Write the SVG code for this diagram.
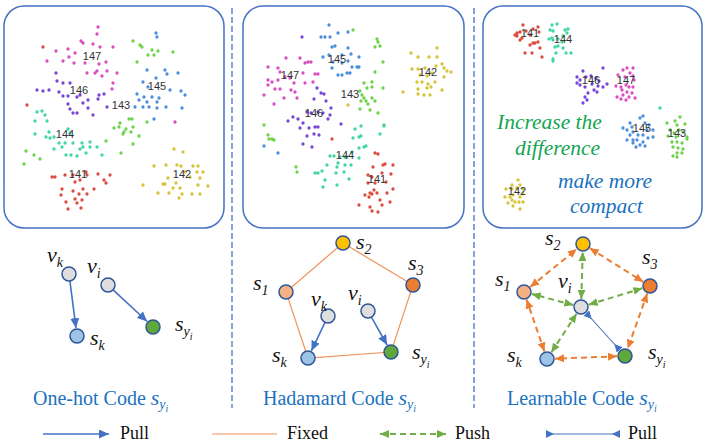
<svg xmlns="http://www.w3.org/2000/svg" width="706" height="446" viewBox="0 0 706 446">
<style>
.box{fill:#fff;stroke:#4472C4;stroke-width:1.5}
.div{stroke:#4472C4;stroke-width:1.3;stroke-dasharray:6 3;fill:none}
.d{fill:none;stroke-width:3.3;stroke-linecap:round}
.r{stroke:#DC4B3E}.p{stroke:#D94EC0}.u{stroke:#7945D8}.b{stroke:#4A8FDB}.g{stroke:#6CD24A}.t{stroke:#3FD6A2}.y{stroke:#D6C33A}
.lb{font-family:"Liberation Sans",Arial,sans-serif;font-size:11px;fill:#333;text-anchor:middle}
.m{font-family:"Liberation Serif","Times New Roman",serif;font-style:italic;font-size:22px;fill:#111}
.sub{font-size:14px}
.ss{font-size:10px}
.title{font-family:"Liberation Serif","Times New Roman",serif;font-size:20px;fill:#1B72C0}
.leg{font-family:"Liberation Serif","Times New Roman",serif;font-size:18px;fill:#111}
.note{font-family:"Liberation Serif","Times New Roman",serif;font-style:italic;font-size:21.5px}
.node{stroke:#2F5597;stroke-width:1.5}
.gray{fill:#DEDEDE}.lblue{fill:#9DC3E6}.green{fill:#5FA83C}.yel{fill:#FFC000}.org{fill:#ED7D31}.lorg{fill:#F4B183}
.pull{stroke:#4472C4;stroke-width:1.6;fill:none}
.fixed{stroke:#F0935A;stroke-width:1.2;fill:none}
.odash{stroke:#ED7D31;stroke-width:2;stroke-dasharray:6 4;fill:none}
.gdash{stroke:#70AD47;stroke-width:2;stroke-dasharray:6 4;fill:none}
.pull2{stroke:#4472C4;stroke-width:1.1;fill:none}
</style>
<defs>
<marker id="ab" markerUnits="userSpaceOnUse" markerWidth="10" markerHeight="9" viewBox="0 0 10 9" refX="10" refY="4.5" orient="auto-start-reverse"><path d="M0,0L10,4.5L0,9z" fill="#4472C4"/></marker>
<marker id="ao" markerUnits="userSpaceOnUse" markerWidth="9" markerHeight="8" viewBox="0 0 9 8" refX="9" refY="4" orient="auto-start-reverse"><path d="M0,0L9,4L0,8z" fill="#ED7D31"/></marker>
<marker id="ag" markerUnits="userSpaceOnUse" markerWidth="9" markerHeight="8" viewBox="0 0 9 8" refX="9" refY="4" orient="auto-start-reverse"><path d="M0,0L9,4L0,8z" fill="#70AD47"/></marker>
<marker id="ai" markerUnits="userSpaceOnUse" markerWidth="8" markerHeight="8" viewBox="0 0 8 8" refX="8" refY="4" orient="auto-start-reverse"><path d="M8,0L0,4L8,8z" fill="#4472C4"/></marker>
</defs>

<!-- dividers -->
<line class="div" x1="232" y1="8" x2="232" y2="408"/>
<line class="div" x1="474" y1="8" x2="474" y2="408"/>

<!-- Panel 1 scatter -->
<g id="scatter1">
<rect class="box" x="4" y="6" width="220" height="222" rx="20"/>
<path class="d p" d="M98 27h0M97 34h0M81 41h0M83 43h0M93 44h0M100 47h0M113 47h0M68 49h0M56 51h0M75 53h0M63 61h0M47 61h0M69 57h0M74 63h0M85 63h0M106 62h0M99 64h0M97 71h0M95 73h0M87 73h0M107 71h0M117 73h0M113 83h0M102 76h0M175 122h0M112 89h0"/>
<path class="d u" d="M56 73h0M57 81h0M63 83h0M70 83h0M37 90h0M43 91h0M49 90h0M59 92h0M63 96h0M68 96h0M77 97h0M80 95h0M88 100h0M98 99h0M104 94h0M99 95h0M68 104h0M70 109h0M77 113h0M88 108h0M93 115h0M107 107h0M73 113h0M83 103h0"/>
<path class="d b" d="M156 33h0M157 37h0M147 70h0M165 70h0M178 73h0M167 74h0M156 78h0M143 82h0M148 87h0M170 90h0M181 91h0M185 95h0M137 94h0M144 97h0M152 97h0M159 98h0M139 100h0M147 102h0M157 102h0M135 107h0M143 107h0M149 107h0M157 108h0M166 107h0M182 108h0M154 119h0"/>
<path class="d g" d="M133 41h0M140 45h0M142 47h0M152 50h0M158 51h0M173 52h0M148 55h0M154 55h0M137 62h0M129 119h0M132 119h0M120 123h0M147 122h0M114 128h0M119 127h0M126 129h0M124 132h0M123 134h0M133 127h0M131 132h0M139 136h0M106 141h0M133 144h0M121 153h0M26 151h0M34 155h0M40 159h0M24 164h0"/>
<path class="d t" d="M37 112h0M42 111h0M45 115h0M35 121h0M47 121h0M35 134h0M49 132h0M46 137h0M50 138h0M54 137h0M68 129h0M70 133h0M59 143h0M65 143h0M73 143h0M82 143h0M90 142h0M83 147h0M90 147h0M97 147h0M54 149h0M62 147h0M80 149h0M66 155h0M71 155h0M77 156h0M102 155h0M86 153h0"/>
<path class="d r" d="M43 47h0M27 105h0M52 177h0M55 177h0M65 175h0M73 175h0M86 172h0M87 175h0M98 174h0M110 175h0M104 180h0M106 183h0M80 180h0M75 182h0M62 189h0M73 191h0M83 189h0M94 189h0M61 195h0M79 194h0M87 194h0M66 202h0M75 199h0M77 203h0M82 200h0M68 209h0M81 208h0"/>
<path class="d y" d="M174 149h0M183 152h0M154 166h0M166 165h0M177 165h0M181 166h0M193 166h0M198 166h0M185 172h0M197 172h0M203 172h0M168 178h0M190 177h0M200 178h0M165 184h0M163 184h0M176 183h0M180 188h0M198 185h0M208 186h0M143 185h0M158 193h0M169 193h0M182 194h0M192 194h0M200 194h0M179 198h0M173 188h0"/>
<text class="lb" x="92" y="60">147</text>
<text class="lb" x="79" y="94">146</text>
<text class="lb" x="157" y="90">145</text>
<text class="lb" x="121" y="109">143</text>
<text class="lb" x="65" y="138">144</text>
<text class="lb" x="78" y="178">141</text>
<text class="lb" x="182" y="178">142</text>
</g>

<!-- Panel 2 scatter -->
<g id="scatter2">
<rect class="box" x="243" y="6" width="221" height="222" rx="20"/>
<path class="d b" d="M329 25h0M321 37h0M325 37h0M330 37h0M338 33h0M348 32h0M332 47h0M335 46h0M348 48h0M323 57h0M329 55h0M342 55h0M351 54h0M359 57h0M332 68h0M342 63h0M348 61h0M357 67h0M359 67h0M338 75h0M342 75h0M347 73h0M350 73h0M352 67h0M333 62h0M264 146h0M278 153h0"/>
<path class="d p" d="M268 67h0M278 68h0M286 58h0M300 58h0M305 63h0M308 62h0M311 62h0M280 72h0M268 80h0M272 82h0M278 80h0M285 77h0M290 78h0M294 83h0M303 73h0M315 74h0M318 74h0M305 83h0M313 82h0M275 89h0M280 89h0M291 90h0M295 92h0M264 95h0M284 98h0M297 98h0M274 104h0M268 85h0"/>
<path class="d u" d="M302 37h0M317 88h0M321 93h0M314 99h0M324 94h0M326 101h0M331 108h0M307 112h0M311 113h0M318 112h0M323 113h0M330 115h0M293 117h0M288 121h0M298 119h0M303 123h0M315 127h0M318 127h0M309 128h0M307 136h0M314 134h0M319 135h0M303 144h0M312 147h0M341 124h0M328 119h0M300 128h0"/>
<path class="d g" d="M353 30h0M377 39h0M378 42h0M375 47h0M380 46h0M383 62h0M375 72h0M372 82h0M364 83h0M360 91h0M367 88h0M372 87h0M383 88h0M362 95h0M364 98h0M361 101h0M366 101h0M372 98h0M375 101h0M368 104h0M360 109h0M370 110h0M378 113h0M384 125h0M264 125h0M268 135h0M269 139h0M272 139h0M274 140h0M296 167h0M297 172h0"/>
<path class="d y" d="M411 53h0M418 57h0M429 57h0M437 48h0M437 57h0M442 64h0M412 69h0M418 69h0M425 68h0M436 66h0M444 68h0M447 71h0M451 72h0M420 75h0M427 76h0M432 73h0M435 82h0M444 77h0M417 82h0M422 82h0M428 84h0M418 89h0M427 88h0M431 87h0M442 90h0M403 92h0M418 94h0M424 95h0M430 95h0M348 105h0"/>
<path class="d t" d="M361 126h0M355 129h0M353 138h0M359 137h0M361 136h0M364 147h0M366 146h0M359 148h0M352 152h0M345 157h0M330 156h0M334 156h0M340 157h0M347 157h0M359 158h0M338 163h0M345 165h0M351 165h0M337 167h0M327 165h0M315 173h0M318 173h0M322 171h0M336 173h0M344 172h0M325 180h0M323 187h0M337 185h0M349 179h0M380 134h0M384 126h0"/>
<path class="d r" d="M332 139h0M375 153h0M378 154h0M383 165h0M385 164h0M393 165h0M373 167h0M382 173h0M391 174h0M368 175h0M372 177h0M368 183h0M375 183h0M386 182h0M393 189h0M374 190h0M370 193h0M372 194h0M377 193h0M365 195h0M369 197h0M380 200h0M387 193h0M390 202h0M382 205h0M359 205h0M370 207h0M372 211h0M378 212h0"/>
<text class="lb" x="337" y="63">145</text>
<text class="lb" x="290" y="79">147</text>
<text class="lb" x="428" y="76">142</text>
<text class="lb" x="350" y="98">143</text>
<text class="lb" x="314" y="117">146</text>
<text class="lb" x="345" y="159">144</text>
<text class="lb" x="377" y="183">141</text>
</g>

<!-- Panel 3 scatter -->
<g id="scatter3">
<rect class="box" x="483" y="6" width="219" height="222" rx="20"/>
<path class="d r" d="M523 25h0M517 33h0M515 35h0M520 32h0M522 38h0M526 31h0M530 35h0M533 29h0M538 27h0M539 32h0M535 43h0M530 45h0M533 43h0M538 42h0M540 48h0M525 53h0M532 53h0M542 57h0M520 40h0M517 36h0"/>
<path class="d t" d="M552 25h0M557 24h0M550 30h0M553 31h0M565 30h0M568 29h0M567 33h0M552 38h0M553 40h0M558 39h0M562 42h0M555 47h0M558 46h0M563 48h0M566 53h0M571 53h0M556 53h0M553 59h0M553 61h0M563 36h0M549 39h0M660 108h0"/>
<path class="d u" d="M583 71h0M603 68h0M577 77h0M580 80h0M586 77h0M591 76h0M596 78h0M599 81h0M580 85h0M585 87h0M592 84h0M598 86h0M603 87h0M607 84h0M594 90h0M588 93h0M585 97h0M587 100h0M583 103h0M597 92h0M577 83h0"/>
<path class="d p" d="M623 70h0M627 68h0M633 68h0M630 73h0M618 75h0M625 77h0M633 76h0M634 80h0M616 86h0M621 87h0M626 85h0M629 87h0M633 87h0M622 90h0M627 92h0M632 93h0M617 97h0M621 99h0M626 100h0M635 98h0M629 97h0M623 95h0"/>
<path class="d b" d="M643 116h0M640 118h0M623 128h0M627 130h0M632 127h0M633 132h0M645 123h0M649 125h0M653 130h0M653 137h0M648 138h0M643 135h0M638 135h0M630 135h0M627 140h0M633 140h0M637 140h0M643 142h0M645 146h0M640 145h0M633 143h0M636 147h0M647 130h0M630 123h0"/>
<path class="d g" d="M667 123h0M675 121h0M680 117h0M677 125h0M685 124h0M670 130h0M674 133h0M679 130h0M683 132h0M687 137h0M668 136h0M676 137h0M672 142h0M677 142h0M682 143h0M687 139h0M673 147h0M678 148h0M683 149h0M677 153h0M682 153h0M673 156h0M677 157h0"/>
<path class="d y" d="M518 180h0M512 185h0M520 185h0M506 189h0M512 189h0M517 188h0M523 189h0M505 197h0M510 197h0M513 195h0M520 197h0M523 194h0M515 202h0M519 202h0M523 202h0M508 203h0M513 206h0M520 209h0M512 200h0"/>
<text class="lb" x="530" y="37">141</text>
<text class="lb" x="563" y="43">144</text>
<text class="lb" x="591" y="84">146</text>
<text class="lb" x="626" y="84">147</text>
<text class="lb" x="642" y="132">145</text>
<text class="lb" x="677" y="137">143</text>
<text class="lb" x="517" y="195">142</text>
<text class="note" x="497" y="129" fill="#12A552">Increase the</text>
<text class="note" x="515" y="155" fill="#12A552">difference</text>
<text class="note" x="558" y="188" fill="#1B72C0">make more</text>
<text class="note" x="570" y="213" fill="#1B72C0">compact</text>
</g>

<!-- connectors -->
<g id="connectors">
<line class="pull" x1="69.9" y1="280.9" x2="76" y2="328.1" marker-end="url(#ab)"/>
<line class="pull" x1="113.1" y1="289.8" x2="147.2" y2="321.5" marker-end="url(#ab)"/>
<polygon class="fixed" points="286,292 343,243 413,285 391,352 308,358"/>
<line class="pull" x1="325" y1="322.3" x2="311.4" y2="350.8" marker-end="url(#ab)"/>
<line class="pull" x1="371.4" y1="317.1" x2="387.1" y2="345" marker-end="url(#ab)"/>
<line class="odash" x1="530.2" y1="287" x2="576.8" y2="249" marker-start="url(#ao)" marker-end="url(#ao)"/>
<line class="odash" x1="589.8" y1="248.2" x2="643.2" y2="281.8" marker-start="url(#ao)" marker-end="url(#ao)"/>
<line class="odash" x1="647.3" y1="293.5" x2="627.7" y2="348.5" marker-start="url(#ao)" marker-end="url(#ao)"/>
<line class="odash" x1="617" y1="356.3" x2="555" y2="358.7" marker-start="url(#ao)" marker-end="url(#ao)"/>
<line class="odash" x1="544.4" y1="351.4" x2="526.6" y2="299.6" marker-start="url(#ao)" marker-end="url(#ao)"/>
<line class="gdash" x1="581.3" y1="299" x2="582.7" y2="252" marker-start="url(#ag)" marker-end="url(#ag)"/>
<line class="gdash" x1="573.3" y1="305" x2="531.7" y2="294" marker-start="url(#ag)" marker-end="url(#ag)"/>
<line class="gdash" x1="588.7" y1="304.7" x2="642.3" y2="288.3" marker-start="url(#ag)" marker-end="url(#ag)"/>
<line class="gdash" x1="576.6" y1="313.7" x2="551.4" y2="352.3" marker-start="url(#ag)" marker-end="url(#ag)"/>
<line class="pull2" x1="586.3" y1="313" x2="619.7" y2="350" marker-start="url(#ai)" marker-end="url(#ai)"/>
</g>

<!-- Panel 1 nodes -->
<g id="p1-vk"><circle class="node gray" cx="69" cy="274" r="7"/><text class="m" x="47" y="262">v<tspan class="sub" dy="5">k</tspan></text></g>
<g id="p1-vi"><circle class="node gray" cx="108" cy="285" r="7"/><text class="m" x="87" y="273">v<tspan class="sub" dy="5">i</tspan></text></g>
<g id="p1-sk"><circle class="node lblue" cx="77" cy="336" r="7"/><text class="m" x="90" y="345">s<tspan class="sub" dy="5">k</tspan></text></g>
<g id="p1-sy"><circle class="node green" cx="153" cy="327" r="7"/><text class="m" x="175" y="331">s<tspan class="sub" dy="5">y</tspan><tspan class="ss" dy="4">i</tspan></text></g>
<g id="p1-title"><text class="title" x="33" y="405">One-hot Code <tspan font-style="italic" font-size="22">s</tspan><tspan font-style="italic" font-size="14" dy="4">y</tspan><tspan font-style="italic" font-size="10" dy="3">i</tspan></text></g>

<!-- Panel 2 nodes -->
<g id="p2-s2"><circle class="node yel" cx="343" cy="243" r="7"/><text class="m" x="356" y="249">s<tspan class="sub" dy="5">2</tspan></text></g>
<g id="p2-s3"><circle class="node org" cx="413" cy="285" r="7"/><text class="m" x="408" y="270">s<tspan class="sub" dy="5">3</tspan></text></g>
<g id="p2-s1"><circle class="node lorg" cx="286" cy="292" r="7"/><text class="m" x="253" y="290">s<tspan class="sub" dy="5">1</tspan></text></g>
<g id="p2-vk"><circle class="node gray" cx="328" cy="316" r="7"/><text class="m" x="311" y="306">v<tspan class="sub" dy="5">k</tspan></text></g>
<g id="p2-vi"><circle class="node gray" cx="368" cy="311" r="7"/><text class="m" x="348" y="300">v<tspan class="sub" dy="5">i</tspan></text></g>
<g id="p2-sk"><circle class="node lblue" cx="308" cy="358" r="7"/><text class="m" x="272" y="362">s<tspan class="sub" dy="5">k</tspan></text></g>
<g id="p2-sy"><circle class="node green" cx="391" cy="352" r="7"/><text class="m" x="412" y="359">s<tspan class="sub" dy="5">y</tspan><tspan class="ss" dy="4">i</tspan></text></g>
<g id="p2-title"><text class="title" x="263" y="405">Hadamard Code <tspan font-style="italic" font-size="22">s</tspan><tspan font-style="italic" font-size="14" dy="4">y</tspan><tspan font-style="italic" font-size="10" dy="3">i</tspan></text></g>

<!-- Panel 3 nodes -->
<g id="p3-s2"><circle class="node yel" cx="583" cy="244" r="7"/><text class="m" x="545" y="245">s<tspan class="sub" dy="5">2</tspan></text></g>
<g id="p3-s3"><circle class="node org" cx="650" cy="286" r="7"/><text class="m" x="642" y="264">s<tspan class="sub" dy="5">3</tspan></text></g>
<g id="p3-s1"><circle class="node lorg" cx="524" cy="292" r="7"/><text class="m" x="495" y="286">s<tspan class="sub" dy="5">1</tspan></text></g>
<g id="p3-vi"><circle class="node gray" cx="581" cy="307" r="7"/><text class="m" x="558" y="288">v<tspan class="sub" dy="5">i</tspan></text></g>
<g id="p3-sk"><circle class="node lblue" cx="547" cy="359" r="7"/><text class="m" x="507" y="362">s<tspan class="sub" dy="5">k</tspan></text></g>
<g id="p3-sy"><circle class="node green" cx="625" cy="356" r="7"/><text class="m" x="648" y="359">s<tspan class="sub" dy="5">y</tspan><tspan class="ss" dy="4">i</tspan></text></g>
<g id="p3-title"><text class="title" x="507" y="405">Learnable Code <tspan font-style="italic" font-size="22">s</tspan><tspan font-style="italic" font-size="14" dy="4">y</tspan><tspan font-style="italic" font-size="10" dy="3">i</tspan></text></g>

<!-- legend -->
<g id="legend">
<line class="pull" x1="43" y1="434" x2="109" y2="434" marker-end="url(#ab)"/>
<text class="leg" x="120" y="439">Pull</text>
<line class="fixed" x1="212" y1="434" x2="277" y2="434" stroke-width="1.6"/>
<text class="leg" x="287" y="439">Fixed</text>
<line class="gdash" x1="380" y1="434" x2="446" y2="434" marker-start="url(#ag)" marker-end="url(#ag)"/>
<text class="leg" x="455" y="439">Push</text>
<line class="pull2" x1="546" y1="434" x2="620" y2="434" marker-start="url(#ai)" marker-end="url(#ai)"/>
<text class="leg" x="628" y="439">Pull</text>
</g>
</svg>
